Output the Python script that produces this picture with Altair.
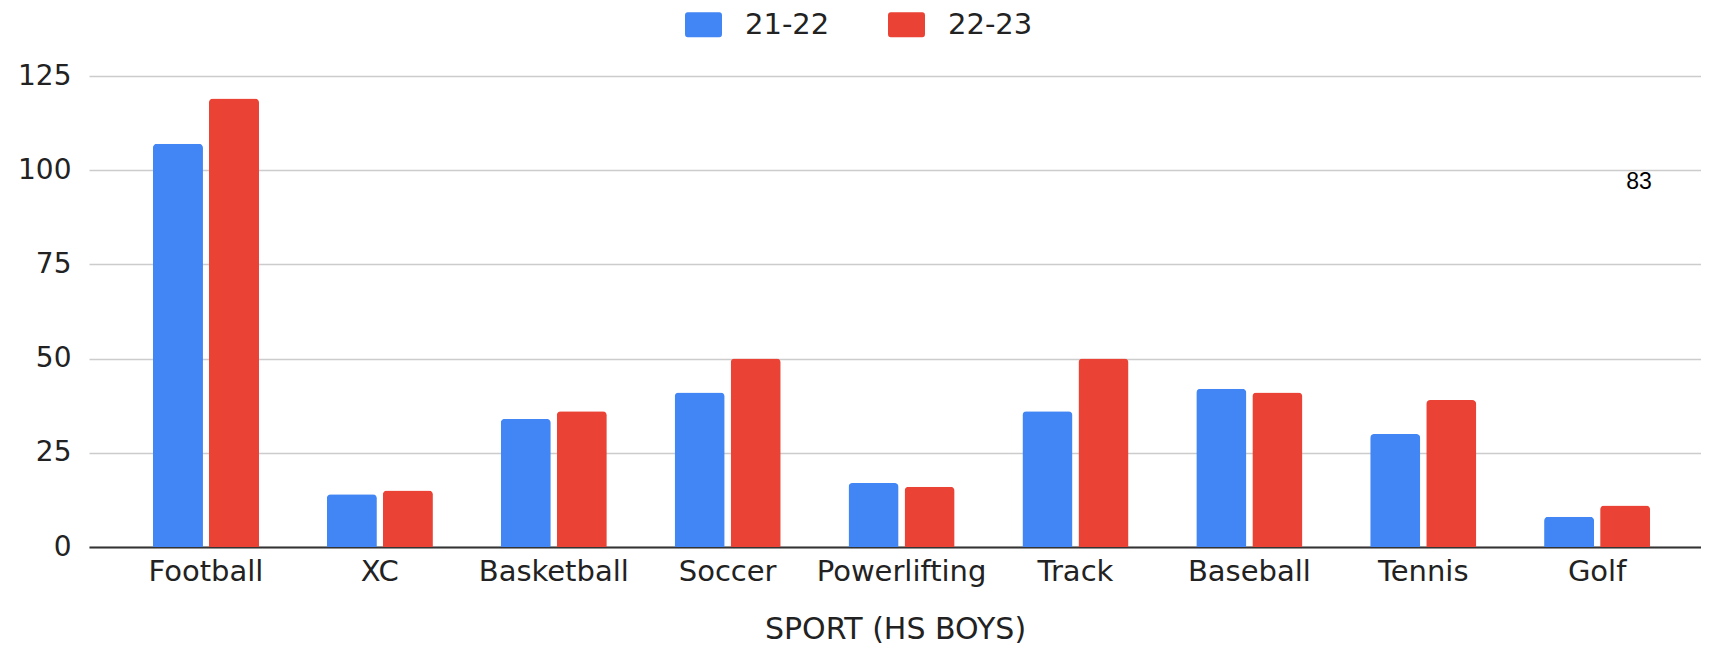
import altair as alt
import pandas as pd

sports = ["Football", "XC", "Basketball", "Soccer", "Powerlifting", "Track", "Baseball", "Tennis", "Golf"]
season_a = "21-22"
season_b = "22-23"
values_a = [107, 14, 34, 41, 17, 36, 42, 30, 8]
values_b = [119, 15, 36, 50, 16, 50, 41, 39, 11]
y_ticks = [0, 25, 50, 75, 100, 125]
stray_label = ["83"]
stray_label_sport = ["Golf"]
stray_label_value = [97]

rows = []
for s, a, b in zip(sports, values_a, values_b):
    rows.append({"sport": s, "season": season_a, "count": a})
    rows.append({"sport": s, "season": season_b, "count": b})
df = pd.DataFrame(rows)

ann = pd.DataFrame({"sport": stray_label_sport, "count": stray_label_value, "label": stray_label})

FONT = "DejaVu Sans"
TXT = "#222222"

legend_shape = ("M-1,-0.5 Q-1,-0.68 -0.85,-0.68 L0.85,-0.68 Q1,-0.68 1,-0.5 "
                "L1,0.5 Q1,0.68 0.85,0.68 L-0.85,0.68 Q-1,0.68 -1,0.5 Z")

x_enc = alt.X(
    "sport:N",
    sort=sports,
    scale=alt.Scale(paddingInner=0.39, paddingOuter=0.33, align=0.557),
    axis=alt.Axis(
        title="SPORT (HS BOYS)",
        labelAngle=0,
        labelFont=FONT,
        labelFontSize=29,
        labelColor=TXT,
        labelPadding=10,
        ticks=False,
        domainColor="#333333",
        domainWidth=2,
        grid=False,
        titleFont=FONT,
        titleFontSize=30,
        titleFontWeight="normal",
        titleColor=TXT,
        titlePadding=28,
    ),
)

y_enc = alt.Y(
    "count:Q",
    scale=alt.Scale(domain=[0, 125], nice=False),
    axis=alt.Axis(
        title=None,
        values=y_ticks,
        labelFont=FONT,
        labelFontSize=28,
        labelColor=TXT,
        labelPadding=18,
        ticks=False,
        domain=False,
        gridColor="#cccccc",
        gridWidth=1.5,
    ),
)

bars = alt.Chart(df).mark_bar(cornerRadiusTopLeft=4, cornerRadiusTopRight=4).encode(
    x=x_enc,
    y=y_enc,
    xOffset=alt.XOffset("season:N", sort=[season_a, season_b], scale=alt.Scale(paddingInner=0.107)),
    color=alt.Color(
        "season:N",
        sort=[season_a, season_b],
        scale=alt.Scale(domain=[season_a, season_b], range=["#4285F4", "#EA4335"]),
        legend=alt.Legend(
            title=None,
            orient="none",
            direction="horizontal",
            legendX=596,
            legendY=-70,
            symbolType=legend_shape,
            symbolSize=1369,
            symbolStrokeWidth=0,
            labelFont=FONT,
            labelFontSize=29,
            labelColor=TXT,
            labelOffset=23,
            columnPadding=58,
            padding=0,
        ),
    ),
)

note = alt.Chart(ann).mark_text(
    font="Liberation Sans", fontSize=23, color="#000000", dx=42, baseline="middle", align="center"
).encode(
    x=alt.X("sport:N", sort=sports),
    y=alt.Y("count:Q"),
    text="label:N",
)

chart = (
    alt.layer(bars, note)
    .properties(
        width=1612,
        height=471,
        autosize=alt.AutoSizeParams(type="none"),
        padding={"left": 81, "top": 68, "right": 0, "bottom": 102},
        background="white",
    )
    .configure_view(stroke=None)
)

chart.save("out.html", embed_options={"renderer": "svg", "actions": False})
